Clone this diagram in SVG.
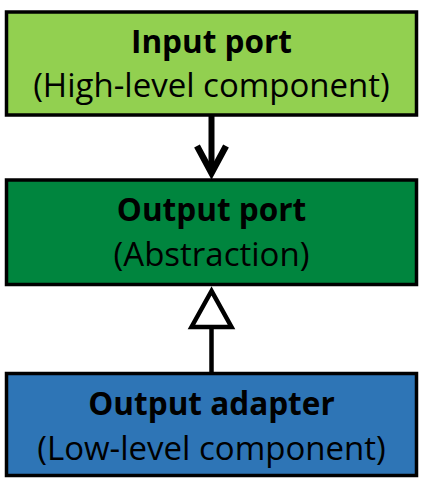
<svg xmlns="http://www.w3.org/2000/svg" width="423" height="484" viewBox="0 0 423 484">
<style>
.box{stroke:#000;stroke-width:3.5}
.t{font-family:"Open Sans","Liberation Sans",sans-serif;font-size:33px;fill:#000;text-anchor:middle}
.b{font-weight:bold;font-size:31.5px}
</style>
<rect width="423" height="484" fill="#fff"/>
<g id="input-port">
<rect class="box" x="6.5" y="12" width="410" height="103" fill="#92D050"/>
<text class="t b" x="211.5" y="53">Input port</text>
<text class="t" x="211.5" y="97">(High-level component)</text>
</g>
<g id="output-port">
<rect class="box" x="6.5" y="180" width="410" height="104.5" fill="#00853E"/>
<text class="t b" x="211.5" y="221">Output port</text>
<text class="t" x="211.5" y="266">(Abstraction)</text>
</g>
<g id="output-adapter">
<rect class="box" x="6.5" y="373.5" width="410" height="102" fill="#2E75B6"/>
<text class="t b" x="211.5" y="415">Output adapter</text>
<text class="t" x="211.5" y="460">(Low-level component)</text>
</g>
<g id="connectors">
<line x1="211.5" y1="116" x2="211.5" y2="170" stroke="#000" stroke-width="6"/>
<polyline points="197,146 211.5,173 226,146" fill="none" stroke="#000" stroke-width="6.5" stroke-linejoin="miter"/>
<line x1="211.5" y1="328" x2="211.5" y2="373" stroke="#000" stroke-width="4.5"/>
<polygon points="211.5,291 191.5,327 231.5,327" fill="#fff" stroke="#000" stroke-width="4.5"/>
</g>
</svg>
